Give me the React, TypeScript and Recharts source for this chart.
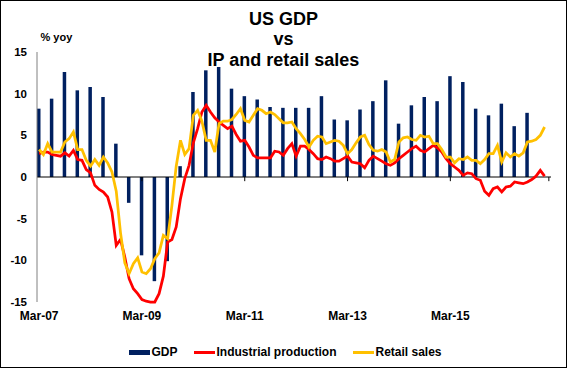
import React from 'react';
import { Bar, ComposedChart, Legend, Line, ReferenceLine, XAxis, YAxis } from 'recharts';

const FONT = 'Arial, "Liberation Sans", sans-serif';

const MONTHS = ['Jan', 'Feb', 'Mar', 'Apr', 'May', 'Jun', 'Jul', 'Aug', 'Sep', 'Oct', 'Nov', 'Dec'];

// monthly categories, Mar-07 .. Feb-17
const categories: string[] = [];
for (let i = 0; i < 120; i++) {
  const k = i + 2;
  categories.push(`${MONTHS[k % 12]}-${String(7 + Math.floor(k / 12)).padStart(2, '0')}`);
}

const xTicks = ['Mar-07', 'Mar-09', 'Mar-11', 'Mar-13', 'Mar-15'];
const xTickMarks = ['Mar-09', 'Mar-11', 'Mar-13', 'Mar-15', 'Feb-17'];
const yTicks = [-15, -10, -5, 0, 5, 10, 15];

// GDP % yoy, quarterly from Mar-07 to Sep-16
const gdp = [
  8.2, 9.4, 12.6, 10.4, 10.8, 9.6, 4.0, -3.1, -9.4, -12.5, -10.1, 1.3,
  10.2, 12.8, 13.2, 10.6, 9.7, 9.3, 8.4, 8.3, 8.3, 8.3, 9.7, 6.9,
  6.8, 8.1, 9.1, 11.6, 6.4, 8.6, 9.6, 9.1, 12.1, 11.4, 8.2, 7.4,
  8.8, 6.1, 7.7
];

// Industrial production % yoy, monthly from Mar-07
const industrial = [
  2.8, 3.0, 3.0, 2.7, 2.6, 2.5, 2.9, 2.5, 3.2, 2.1, 2.0, 0.9,
  0.5, -1.0, -1.5, -1.8, -2.4, -4.2, -8.2, -7.5, -9.6, -12.2, -13.4, -14.0,
  -14.7, -14.9, -15.0, -15.0, -14.0, -11.9, -7.8, -7.5, -6.0, -2.6, -0.2, 1.4,
  4.1, 5.8, 7.8, 8.6, 7.8, 7.1, 6.6, 6.2, 5.8, 6.1, 5.1, 4.3,
  4.4, 3.6, 2.6, 2.3, 2.3, 2.3, 2.3, 3.1, 3.0, 2.6, 3.4, 4.0,
  2.5, 3.7, 3.7, 3.3, 2.8, 2.2, 2.1, 2.4, 2.2, 1.9, 1.9, 2.2,
  2.5, 1.8, 1.7, 1.6, 1.1, 2.0, 2.5, 2.2, 1.9, 1.6, 1.4, 1.7,
  2.2, 2.6, 3.0, 3.4, 3.7, 3.2, 3.0, 3.4, 3.8, 3.5, 3.0, 2.2,
  1.6, 1.2, 0.8, 0.2, 0.5, 0.4, -0.2, -0.4, -1.7, -2.2, -1.4, -1.2,
  -1.8, -1.2, -1.1, -0.6, -0.7, -0.8, -0.6, -0.3, 0.1, 0.8, 0.1
];

// Retail sales % yoy, monthly from Mar-07
const retail = [
  3.3, 2.7, 4.0, 3.0, 3.0, 3.0, 4.2, 4.6, 5.4, 3.3, 3.3, 2.0,
  1.3, 2.1, 1.4, 2.4, 1.7, 0.6, -1.7, -6.7, -10.3, -11.6, -10.4, -9.7,
  -11.4, -11.6, -11.0, -9.8, -9.1, -7.0, -7.4, -3.4, 1.3, 4.4, 2.7, 3.4,
  7.4, 8.0, 6.7, 4.4, 4.4, 3.0, 6.4, 6.7, 6.7, 6.9, 7.5, 8.2,
  6.8, 6.6, 7.4, 8.2, 8.0, 7.6, 7.8, 7.5, 7.0, 6.5, 6.5, 6.6,
  5.8, 5.2, 4.5, 3.6, 4.4, 4.9, 4.8, 4.0, 4.2, 4.4, 4.3, 3.8,
  2.8, 3.3, 4.1, 4.8, 5.0, 3.9, 3.2, 3.1, 3.3, 3.0, 1.8, 2.1,
  4.2, 4.7, 4.8, 4.5, 4.4, 5.0, 4.8, 4.9, 4.0, 4.0, 3.3, 2.4,
  2.4, 1.7, 2.2, 2.1, 2.4, 2.0, 2.0, 1.6, 2.1, 2.8, 2.8, 3.8,
  1.8, 2.9, 2.4, 2.8, 2.5, 2.9, 4.2, 4.3, 4.5, 5.0, 6.0
];

const data = categories.map((month, i) => ({
  month,
  gdp: i % 3 === 0 && i / 3 < gdp.length ? gdp[i / 3] : null,
  ip: i < industrial.length ? industrial[i] : null,
  retail: i < retail.length ? retail[i] : null
}));

function renderLegend(props: any) {
  const payload = props.payload || [];
  return (
    <div
      style={{
        display: 'flex',
        justifyContent: 'center',
        alignItems: 'center',
        height: 20,
        paddingLeft: 4,
        fontFamily: FONT,
        fontSize: 12,
        fontWeight: 'bold',
        color: '#000'
      }}
    >
      {payload.map((entry: any, i: number) => (
        <div key={`legend-${i}`} style={{ display: 'flex', alignItems: 'center', marginLeft: i === 0 ? 0 : 17 }}>
          <div
            style={{
              width: 21,
              height: entry.dataKey === 'gdp' ? 5 : 3,
              background: entry.color,
              marginRight: 1
            }}
          />
          <span>{entry.value}</span>
        </div>
      ))}
    </div>
  );
}

export default function App() {
  return (
    <div style={{ position: 'absolute', left: 0, top: 0, width: 567, height: 368, background: '#fff' }}>
      <ComposedChart
        width={567}
        height={368}
        data={data}
        margin={{ top: 52, right: 16, left: 0, bottom: 6 }}
      >
        <XAxis
          dataKey="month"
          interval={23}
          height={40}
          axisLine={false}
          tickLine={false}
          tickSize={0}
          tickMargin={9.5}
          tick={{ fill: '#000', fontSize: 12, fontWeight: 'bold', fontFamily: FONT }}
        />
        <YAxis
          domain={[-15, 15]}
          ticks={yTicks}
          width={37}
          axisLine={{ stroke: '#808080', strokeWidth: 1 }}
          tickLine={false}
          tickSize={0}
          tickMargin={10}
          tick={{ fill: '#000', fontSize: 11.5, fontWeight: 'bold', fontFamily: FONT }}
        />
        <Legend
          verticalAlign="bottom"
          content={renderLegend}
          wrapperStyle={{ left: 0, width: 567 }}
        />
        <Bar dataKey="gdp" name="GDP" fill="#002060" barSize={3.5} isAnimationActive={false} />
        <ReferenceLine y={0} stroke="#000" strokeWidth={1} />
        {xTickMarks.map((m) => (
          <ReferenceLine
            key={m}
            segment={[{ x: m, y: 0 }, { x: m, y: -0.5 }]}
            stroke="#000"
            strokeWidth={1}
          />
        ))}
        <Line
          type="linear"
          dataKey="ip"
          name="Industrial production"
          stroke="#FF0000"
          strokeWidth={2.75}
          dot={false}
          isAnimationActive={false}
        />
        <Line
          type="linear"
          dataKey="retail"
          name="Retail sales"
          stroke="#FFC000"
          strokeWidth={2.75}
          dot={false}
          isAnimationActive={false}
        />
      </ComposedChart>
      <div
        style={{
          position: 'absolute',
          left: 0,
          top: 8.5,
          width: 567,
          textAlign: 'center',
          fontFamily: FONT,
          fontSize: 18,
          lineHeight: '20.5px',
          fontWeight: 'bold',
          color: '#000',
          pointerEvents: 'none'
        }}
      >
        US GDP
        <br />
        vs
        <br />
        IP and retail sales
      </div>
      <div
        style={{
          position: 'absolute',
          left: 40.5,
          top: 31.6,
          fontFamily: FONT,
          fontSize: 11,
          lineHeight: '11px',
          fontWeight: 'bold',
          color: '#000'
        }}
      >
        % yoy
      </div>
      <div
        style={{
          position: 'absolute',
          left: 0,
          top: 0,
          width: 567,
          height: 368,
          border: '1px solid #000',
          boxSizing: 'border-box',
          pointerEvents: 'none'
        }}
      />
    </div>
  );
}
